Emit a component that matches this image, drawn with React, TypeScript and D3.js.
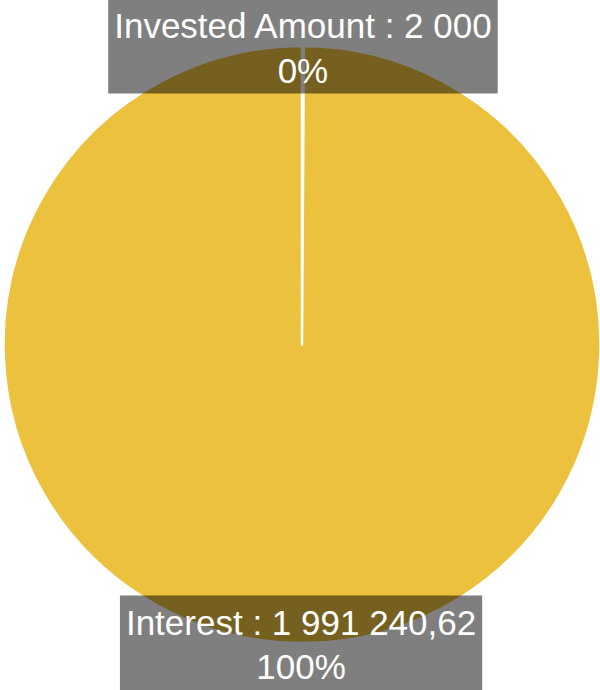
import React, { useEffect, useRef } from "react";
import * as d3 from "d3";

const labels = ["Invested Amount", "Interest"];
const values = [2000, 1991240.62];
const colors = ["#ECC13E", "#ECC13E"];

const W = 600;
const H = 690;

function fmt(v: number): string {
  const hasDec = Math.round(v * 100) % 100 !== 0;
  const fixed = hasDec ? v.toFixed(2) : Math.round(v).toString();
  const [intPart, dec] = fixed.split(".");
  const grouped = intPart.replace(/\B(?=(\d{3})+(?!\d))/g, " ");
  return dec ? `${grouped},${dec}` : grouped;
}

export default function App() {
  const ref = useRef<SVGSVGElement>(null);
  useEffect(() => {
    const svg = d3.select(ref.current);
    svg.selectAll("*").remove();
    const cx = 302, cy = 344.5, r = 298.5;
    const total = d3.sum(values);
    const data = labels.map((l, i) => ({ label: l, value: values[i], color: colors[i] }));
    const pie = d3.pie<any>().sort(null).value((d: any) => d.value);
    const arcs = pie(data);
    const arc = d3.arc<any>().innerRadius(0).outerRadius(r);
    const g = svg.append("g").attr("transform", `translate(${cx},${cy})`);
    g.selectAll("path")
      .data(arcs)
      .enter()
      .append("path")
      .attr("d", arc as any)
      .attr("fill", (d: any) => d.data.color)
      .attr("stroke", "#ffffff")
      .attr("stroke-width", 2.5)
      .attr("stroke-linejoin", "round");

    const lg = svg.append("g").attr("transform", `translate(${cx},${cy})`);
    arcs.forEach((a: any) => {
      const mid = (a.startAngle + a.endAngle) / 2;
      const x = Math.sin(mid) * r;
      const y = -Math.cos(mid) * r;
      const grp = lg.append("g").attr("transform", `translate(${x},${y})`);
      const rect = grp.append("rect").attr("fill", "#000").attr("fill-opacity", 0.5);
      const t1 = grp
        .append("text")
        .attr("text-anchor", "middle")
        .attr("y", -8)
        .attr("fill", "#fff")
        .attr("font-family", "'Liberation Sans', Arial, sans-serif")
        .attr("font-size", 35)
        .text(`${a.data.label} : ${fmt(a.data.value)}`);
      grp
        .append("text")
        .attr("text-anchor", "middle")
        .attr("y", 36.5)
        .attr("fill", "#fff")
        .attr("font-family", "'Liberation Sans', Arial, sans-serif")
        .attr("font-size", 35)
        .text(`${Math.round((a.data.value / total) * 100)}%`);
      const bw = (t1.node() as SVGTextElement).getComputedTextLength() + 12;
      rect.attr("x", -bw / 2).attr("y", -47.5).attr("width", bw).attr("height", 95);
    });
  }, []);
  return (
    <svg
      ref={ref}
      width={W}
      height={H}
      style={{ position: "absolute", left: 0, top: 0, display: "block" }}
    />
  );
}
